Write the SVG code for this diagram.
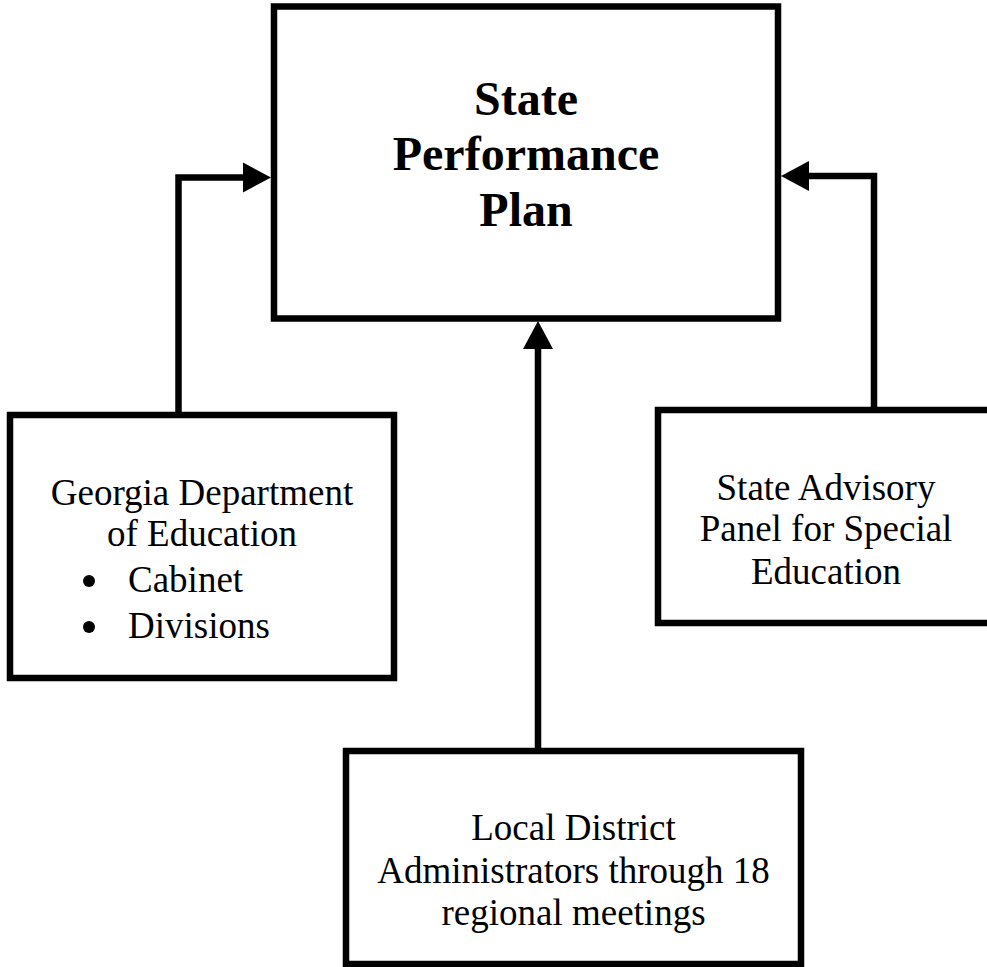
<svg xmlns="http://www.w3.org/2000/svg" width="987" height="967" viewBox="0 0 987 967">
<defs>
<style>
.box{fill:#fff;stroke:#000;stroke-width:6.5}
.conn{fill:none;stroke:#000;stroke-width:6.5;stroke-linejoin:miter}
.t{font-family:"Liberation Serif","Times New Roman",serif;font-size:37px;fill:#000}
.c{text-anchor:middle}
.title{font-family:"Liberation Serif","Times New Roman",serif;font-size:48px;font-weight:bold;fill:#000;text-anchor:middle}
</style>
<marker id="arr" markerUnits="userSpaceOnUse" markerWidth="30" markerHeight="32" refX="0" refY="15" orient="auto" viewBox="0 0 30 30">
<path d="M0,0 L28,15 L0,30 Z" fill="#000"/>
</marker>
</defs>
<rect width="987" height="967" fill="#fff"/>
<g id="node-spp">
<rect class="box" x="274" y="6.5" width="504" height="312"/>
<text class="title" x="526" y="115">State</text>
<text class="title" x="526" y="170">Performance</text>
<text class="title" x="526" y="226">Plan</text>
</g>
<g id="node-gdoe">
<rect class="box" x="10" y="415" width="384" height="263"/>
<text class="t c" x="202" y="505">Georgia Department</text>
<text class="t c" x="202" y="546">of Education</text>
<circle cx="89" cy="581" r="6"/>
<text class="t" x="128" y="592">Cabinet</text>
<circle cx="89" cy="627" r="6"/>
<text class="t" x="128" y="638">Divisions</text>
</g>
<g id="node-sap">
<rect class="box" x="658" y="410" width="336" height="213"/>
<text class="t c" x="826" y="500">State Advisory</text>
<text class="t c" x="826" y="541">Panel for Special</text>
<text class="t c" x="826" y="584">Education</text>
</g>
<g id="node-lda">
<rect class="box" x="346" y="751" width="455" height="213"/>
<text class="t c" x="573.5" y="840">Local District</text>
<text class="t c" x="573.5" y="883">Administrators through 18</text>
<text class="t c" x="573.5" y="925">regional meetings</text>
</g>
<g id="connectors">
<path class="conn" d="M178.5,415 L178.5,177.5 L243,177.5" marker-end="url(#arr)"/>
<path class="conn" d="M874,410 L874,176 L809,176" marker-end="url(#arr)"/>
<path class="conn" d="M538,751 L538,349" marker-end="url(#arr)"/>
</g>
</svg>
